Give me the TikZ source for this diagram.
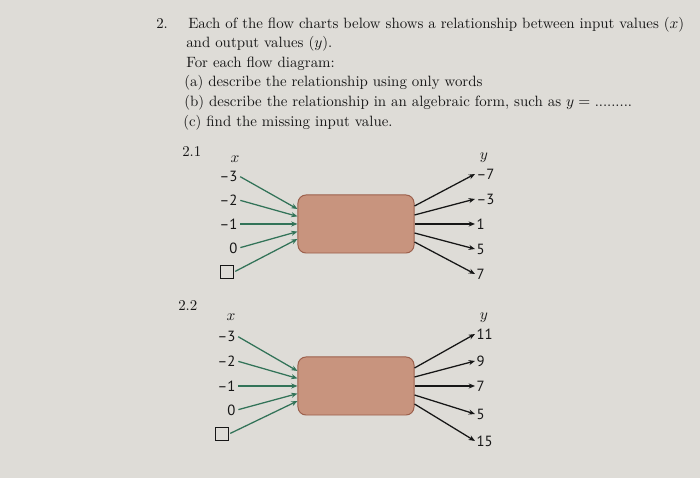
\documentclass[tikz,border=0pt]{standalone}
\usepackage{amsmath}
\usepackage{fontspec}
\newfontfamily\numfont{PT Sans}
\usepackage{tikz}
\usetikzlibrary{arrows.meta}
\usetikzlibrary{positioning}

\definecolor{pagegrey}{RGB}{222,220,215}
\definecolor{inkgrey}{RGB}{22,22,22}
\definecolor{flowgreen}{RGB}{50,115,88}
\definecolor{boxfill}{RGB}{200,148,126}
\definecolor{boxline}{RGB}{155,95,75}

\tikzset{
  qtext/.style={anchor=base west, inner sep=0pt, text=inkgrey,
    font=\fontsize{10.6}{12}\selectfont},
  varlabel/.style={inner sep=0pt, text=inkgrey, font=\fontsize{11}{12}\selectfont},
  invalue/.style={anchor=east, inner sep=1pt, text=inkgrey,
    font=\numfont\fontsize{10.5}{12}\selectfont},
  outvalue/.style={anchor=west, inner sep=1pt, text=inkgrey,
    font=\numfont\fontsize{10.5}{12}\selectfont},
  rulebox/.style={draw=boxline, fill=boxfill, line width=0.7pt, rounded corners=0.2cm,
    minimum width=2.9cm, minimum height=1.45cm},
  blank/.style={draw=inkgrey, line width=0.6pt, minimum size=0.33cm, inner sep=0pt},
  inarrow/.style={flowgreen, line width=0.9pt, shorten <=1pt, -{Stealth[length=4.5pt,width=3.6pt]}},
  outarrow/.style={inkgrey, line width=0.9pt, -{Stealth[length=4.5pt,width=3.6pt]}}
}

\begin{document}
\begin{tikzpicture}[x=0.025cm, y=-0.025cm]
      \path[use as bounding box] (0, 0) rectangle (700, 478);
      \fill[pagegrey] (0, 0) rectangle (700, 478);

      % question text
      \node[qtext] (qnum) at (156, 29) {2.};
      \node[qtext] (line1) at (188, 29) {Each of the flow charts below shows a relationship between input values ($x$)};
      \node[qtext] (line2) at (186, 48) {and output values ($y$).};
      \node[qtext] (line3) at (186, 68) {For each flow diagram:};
      \node[qtext] (parta) at (184, 87) {(a) describe the relationship using only words};
      \node[qtext] (partb) at (184, 107) {(b) describe the relationship in an algebraic form, such as $y = {}$.........};
      \node[qtext] (partc) at (183, 127) {(c) find the missing input value.};

      % 2.1
      \node[qtext] (name1) at (182, 157) {2.1};
      \begin{scope}
        \node[rulebox] (rule) at (356, 224) {};
        \node[varlabel] (xlab) at (235, 159) {$x$};
        \node[varlabel] (ylab) at (484, 158) {$y$};
        \node[invalue] (in1) at (239, 176) {–3};
        \node[invalue] (in2) at (239, 200) {–2};
        \node[invalue] (in3) at (239, 224) {–1};
        \node[invalue] (in4) at (239, 248) {0};
        \node[blank] (in5) at (227, 272) {};
        \coordinate (e1) at ([yshift=0.375cm] rule.west);
        \coordinate (e2) at ([yshift=0.19cm] rule.west);
        \coordinate (e3) at (rule.west);
        \coordinate (e4) at ([yshift=-0.19cm] rule.west);
        \coordinate (e5) at ([yshift=-0.375cm] rule.west);
        \draw[inarrow] (in1.east) -- (e1);
        \draw[inarrow] (in2.east) -- (e2);
        \draw[inarrow] (in3.east) -- (e3);
        \draw[inarrow] (in4.east) -- (e4);
        \draw[inarrow] (in5.east) -- (e5);
        \coordinate (s1) at ([yshift=0.45cm] rule.east);
        \coordinate (s2) at ([yshift=0.225cm] rule.east);
        \coordinate (s3) at (rule.east);
        \coordinate (s4) at ([yshift=-0.225cm] rule.east);
        \coordinate (s5) at ([yshift=-0.45cm] rule.east);
        \node[outvalue] (out1) at (475, 174) {–7};
        \node[outvalue] (out2) at (475, 199) {–3};
        \node[outvalue] (out3) at (475, 224) {1};
        \node[outvalue] (out4) at (475, 249) {5};
        \node[outvalue] (out5) at (475, 274) {7};
        \draw[outarrow] (s1) -- (out1.west);
        \draw[outarrow] (s2) -- (out2.west);
        \draw[outarrow] (s3) -- (out3.west);
        \draw[outarrow] (s4) -- (out4.west);
        \draw[outarrow] (s5) -- (out5.west);
      \end{scope}

      % 2.2
      \node[qtext] (name2) at (178, 311) {2.2};
      \begin{scope}[shift={(0, 162)}]
        \node[rulebox] (rule) at (356, 224) {};
        \node[varlabel] (xlab) at (231, 155) {$x$};
        \node[varlabel] (ylab) at (484, 156) {$y$};
        \node[invalue] (in1) at (237, 174) {–3};
        \node[invalue] (in2) at (237, 199) {–2};
        \node[invalue] (in3) at (237, 224) {–1};
        \node[invalue] (in4) at (237, 248) {0};
        \node[blank] (in5) at (222, 272) {};
        \coordinate (e1) at ([yshift=0.375cm] rule.west);
        \coordinate (e2) at ([yshift=0.19cm] rule.west);
        \coordinate (e3) at (rule.west);
        \coordinate (e4) at ([yshift=-0.19cm] rule.west);
        \coordinate (e5) at ([yshift=-0.375cm] rule.west);
        \draw[inarrow] (in1.east) -- (e1);
        \draw[inarrow] (in2.east) -- (e2);
        \draw[inarrow] (in3.east) -- (e3);
        \draw[inarrow] (in4.east) -- (e4);
        \draw[inarrow] (in5.east) -- (e5);
        \coordinate (s1) at ([yshift=0.45cm] rule.east);
        \coordinate (s2) at ([yshift=0.225cm] rule.east);
        \coordinate (s3) at (rule.east);
        \coordinate (s4) at ([yshift=-0.225cm] rule.east);
        \coordinate (s5) at ([yshift=-0.45cm] rule.east);
        \node[outvalue] (out1) at (475, 172) {11};
        \node[outvalue] (out2) at (475, 199) {9};
        \node[outvalue] (out3) at (475, 224) {7};
        \node[outvalue] (out4) at (475, 252) {5};
        \node[outvalue] (out5) at (475, 279) {15};
        \draw[outarrow] (s1) -- (out1.west);
        \draw[outarrow] (s2) -- (out2.west);
        \draw[outarrow] (s3) -- (out3.west);
        \draw[outarrow] (s4) -- (out4.west);
        \draw[outarrow] (s5) -- (out5.west);
      \end{scope}
    \end{tikzpicture}
\end{document}
